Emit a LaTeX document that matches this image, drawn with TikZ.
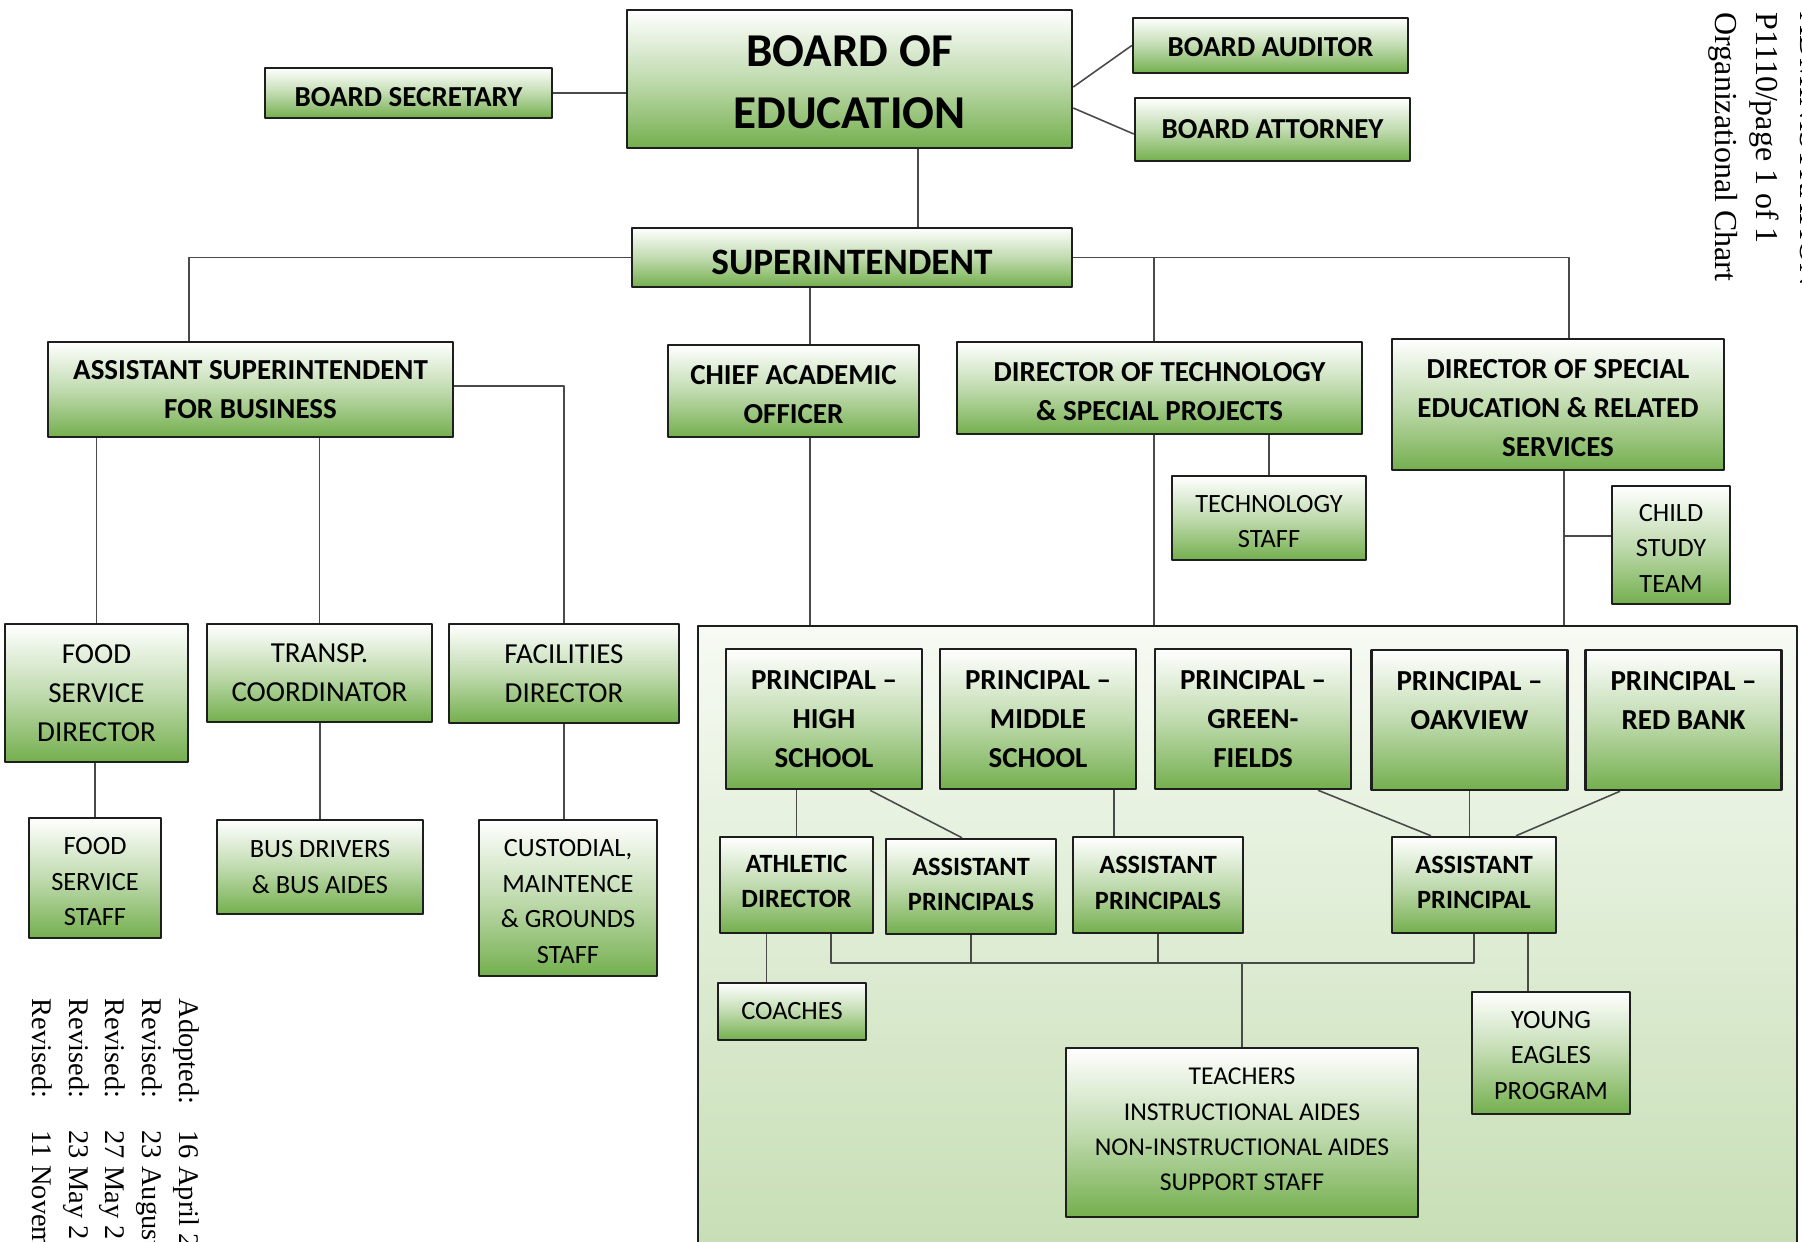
\documentclass[tikz,border=0pt]{standalone}
\usepackage{fontspec}
\setmainfont{Carlito}
\newfontfamily\timesfont{Liberation Serif}
% invisible struts that nudge a box's text down or up
\newcommand\pushdown[1]{\rule{0pt}{\dimexpr0.64em+#1*2\relax}}
\newcommand\pushup[1]{\rule[-\dimexpr#1*2\relax]{0pt}{0pt}}
\begin{document}
\begin{tikzpicture}[line join=round]
  \definecolor{leaf}{HTML}{74AF4E}
  \definecolor{edge}{HTML}{1E1E1E}
  \definecolor{wire}{HTML}{4A4A4A}
  \definecolor{bgtop}{HTML}{F6FAF3}
  \definecolor{bgbot}{HTML}{C6DEB4}
  \path[use as bounding box] (0,0) rectangle (18.02,-12.41);
  \tikzset{
    unit/.style={draw=edge, line width=0.7pt, top color=white, bottom color=leaf,
      middle color=leaf!45!white, align=center, inner sep=0pt, text=black,
      font=\bfseries\fontsize{8.25}{11.1}\selectfont},
    unitsm/.style={unit, font=\bfseries\fontsize{7.5}{10.1}\selectfont},
    staff/.style={unit, font=\fontsize{8.25}{11.1}\selectfont},
    staffsm/.style={unit, font=\fontsize{7.5}{10.1}\selectfont},
    link/.style={draw=wire, line width=0.45pt},
  }
  % Schools panel sits behind everything below the directors.
  \node[draw=edge, line width=0.7pt, top color=bgtop, bottom color=bgbot, inner sep=0pt,
    minimum width=10.99cm, minimum height=6.34cm] (schools) at (12.475,-9.43) {};
  % Page header and adoption history, set sideways.
  \node[rotate=-90, anchor=north west, inner sep=0pt, align=left,
    font=\timesfont\fontsize{9.1}{11.7}\selectfont] (header) at (18.22,-0.12)
    {ADMINISTRATION\\[0.8pt]P1110/page 1 of 1\\Organizational Chart};
  \node[rotate=-90, anchor=north west, inner sep=0pt, align=left,
    font=\timesfont\fontsize{8.1}{10.4}\selectfont] (history) at (1.995,-9.98)
    {\makebox[1.32cm][l]{Adopted:}16 April 2\\
     \makebox[1.32cm][l]{Revised:}23 August\\
     \makebox[1.32cm][l]{Revised:}27 May 2\\
     \makebox[1.32cm][l]{Revised:}23 May 2\\
     \makebox[1.32cm][l]{Revised:}11 November};
  % Board level.
  \node[unit, minimum width=2.87cm, minimum height=0.50cm] (bsec) at (4.085,-0.93) {\pushdown{1.3pt}BOARD SECRETARY};
  \node[unit, font=\bfseries\fontsize{13.4}{17.6}\selectfont, minimum width=4.45cm, minimum height=1.38cm]
    (boe) at (8.495,-0.79) {\pushdown{1.1pt}BOARD OF\\EDUCATION};
  \node[unit, minimum width=2.75cm, minimum height=0.55cm] (baud) at (12.705,-0.455) {\pushdown{0.6pt}BOARD AUDITOR};
  \node[unit, minimum width=2.75cm, minimum height=0.63cm] (batt) at (12.725,-1.295) {BOARD ATTORNEY};
  \node[unit, font=\bfseries\fontsize{10.6}{13}\selectfont, minimum width=4.40cm, minimum height=0.59cm]
    (supt) at (8.52,-2.575) {\pushdown{1.6pt}SUPERINTENDENT};
  % Central office.
  \node[unit, minimum width=4.05cm, minimum height=0.95cm] (asb) at (2.505,-3.895) {ASSISTANT SUPERINTENDENT\\FOR BUSINESS};
  \node[unit, minimum width=2.51cm, minimum height=0.92cm] (cao) at (7.935,-3.91) {\pushdown{1pt}CHIEF ACADEMIC\\OFFICER};
  \node[unit, minimum width=4.05cm, minimum height=0.92cm] (dtsp) at (11.595,-3.88) {\pushdown{1pt}DIRECTOR OF TECHNOLOGY\\\& SPECIAL PROJECTS};
  \node[unit, minimum width=3.32cm, minimum height=1.31cm] (dse) at (15.58,-4.045) {\pushdown{1pt}DIRECTOR OF SPECIAL\\EDUCATION \& RELATED\\SERVICES};
  \node[staffsm, minimum width=1.94cm, minimum height=0.84cm] (tstaff) at (12.69,-5.18) {\pushdown{1.1pt}TECHNOLOGY\\STAFF};
  \node[staffsm, minimum width=1.18cm, minimum height=1.18cm] (cst) at (16.71,-5.45) {\pushdown{1pt}CHILD\\STUDY\\TEAM};
  % Business side.
  \node[staff, minimum width=1.83cm, minimum height=1.38cm] (fsd) at (0.965,-6.93) {FOOD\\SERVICE\\DIRECTOR};
  \node[staff, minimum width=2.25cm, minimum height=0.98cm] (trans) at (3.195,-6.73) {TRANSP.\\COORDINATOR};
  \node[staff, minimum width=2.30cm, minimum height=0.99cm] (fac) at (5.64,-6.735) {FACILITIES\\DIRECTOR};
  \node[staffsm, minimum width=1.32cm, minimum height=1.20cm] (fss) at (0.95,-8.78) {\pushdown{1.1pt}FOOD\\SERVICE\\STAFF};
  \node[staffsm, minimum width=2.06cm, minimum height=0.94cm] (bus) at (3.20,-8.67) {BUS DRIVERS\\\& BUS AIDES};
  \node[staffsm, minimum width=1.78cm, minimum height=1.56cm] (cust) at (5.68,-8.98) {\pushdown{1pt}CUSTODIAL,\\MAINTENCE\\\& GROUNDS\\STAFF};
  % Schools.
  \tikzset{principal/.style={unit, minimum width=1.96cm, minimum height=1.40cm}}
  \node[principal] (phs) at (8.24,-7.19) {PRINCIPAL --\\HIGH\\SCHOOL};
  \node[principal] (pms) at (10.38,-7.19) {PRINCIPAL --\\MIDDLE\\SCHOOL};
  \node[principal] (pgf) at (12.53,-7.19) {PRINCIPAL --\\GREEN-\\FIELDS};
  \node[principal] (poak) at (14.695,-7.20) {PRINCIPAL --\\OAKVIEW\\\mbox{}};
  \node[principal] (prb) at (16.835,-7.20) {PRINCIPAL --\\RED BANK\\\mbox{}};
  \node[unitsm, minimum width=1.53cm, minimum height=0.96cm] (ad) at (7.965,-8.85) {ATHLETIC\\DIRECTOR\pushup{1.1pt}};
  \node[unitsm, minimum width=1.70cm, minimum height=0.95cm] (aphs) at (9.71,-8.865) {ASSISTANT\\PRINCIPALS\pushup{0.6pt}};
  \node[unitsm, minimum width=1.70cm, minimum height=0.96cm] (apms) at (11.58,-8.85) {ASSISTANT\\PRINCIPALS\pushup{0.6pt}};
  \node[unitsm, minimum width=1.64cm, minimum height=0.96cm] (ap) at (14.74,-8.85) {ASSISTANT\\PRINCIPAL\pushup{0.8pt}};
  \node[staffsm, minimum width=1.48cm, minimum height=0.57cm] (coach) at (7.92,-10.115) {COACHES};
  \node[staffsm, font=\fontsize{7.3}{10}\selectfont, minimum width=3.52cm, minimum height=1.69cm] (teach) at (12.42,-11.325)
    {TEACHERS\\INSTRUCTIONAL AIDES\\NON-INSTRUCTIONAL AIDES\\SUPPORT STAFF\pushup{0.9pt}};
  \node[staffsm, minimum width=1.58cm, minimum height=1.22cm] (yep) at (15.51,-10.53) {\pushdown{0.7pt}YOUNG\\EAGLES\\PROGRAM};
  % Connectors: board and superintendent.
  \coordinate (boedrop) at ([xshift=6.85mm]boe.south);
  \coordinate (leftdrop) at ([xshift=-6.15mm]asb.north);
  \coordinate (rightdrop) at ([xshift=1.1mm]dse.north);
  \coordinate (techdrop) at ([xshift=-0.55mm]dtsp.north);
  \coordinate (techdown) at ([xshift=-0.55mm]dtsp.south);
  \coordinate (caoup) at ([xshift=1.65mm]cao.north);
  \coordinate (caodown) at ([xshift=1.65mm]cao.south);
  \coordinate (sedown) at ([xshift=0.6mm]dse.south);
  \coordinate (cstin) at ([yshift=0.9mm]cst.west);
  \draw[link] (bsec.east) -- (bsec.east -| boe.west);
  \draw[link] ([yshift=-0.8mm]boe.east) -- (baud.west);
  \draw[link] ([yshift=-2.9mm]boe.east) -- ([yshift=-0.45mm]batt.west);
  \draw[link] (boedrop) -- (boedrop |- supt.north);
  \draw[link] (supt.west) -| (leftdrop);
  \draw[link] (supt.east) -| (rightdrop);
  \draw[link] (techdrop) -- (techdrop |- supt.east);
  \draw[link] (caoup) -- (caoup |- supt.south);
  \draw[link] (caodown) -- (caodown |- schools.north);
  \draw[link] (techdown) -- (techdown |- schools.north);
  \draw[link] (tstaff.north) -- (tstaff.north |- dtsp.south);
  \draw[link] (sedown) -- (sedown |- schools.north);
  \draw[link] (cstin) -- (cstin -| sedown);
  % Connectors: business.
  \draw[link] (fsd.north) -- (fsd.north |- asb.south);
  \draw[link] (trans.north) -- (trans.north |- asb.south);
  \draw[link] ([yshift=0.35mm]asb.east) -| (fac.north);
  \draw[link] (fss.north) -- (fss.north |- fsd.south);
  \draw[link] (bus.north) -- (bus.north |- trans.south);
  \draw[link] (fac.south) -- (fac.south |- cust.north);
  % Connectors: schools.
  \coordinate (msdown) at ([xshift=7.6mm]pms.south);
  \coordinate (coachup) at ([xshift=-3mm]ad.south);
  \coordinate (adout) at ([xshift=3.45mm]ad.south);
  \coordinate (hub) at ([yshift=-2.9mm]ap.south);
  \coordinate (eagleup) at ([xshift=5.4mm]ap.south);
  \draw[link] (ad.north) -- (ad.north |- phs.south);
  \draw[link] ([xshift=4.6mm]phs.south) -- ([xshift=-0.9mm]aphs.north);
  \draw[link] (msdown) -- (msdown |- apms.north);
  \draw[link] ([xshift=6.5mm]pgf.south) -- ([xshift=-4.3mm]ap.north);
  \draw[link] (poak.south) -- (poak.south |- ap.north);
  \draw[link] ([xshift=-6.35mm]prb.south) -- ([xshift=4.2mm]ap.north);
  \draw[link] (coachup) -- (coachup |- coach.north);
  \draw[link] (adout) |- (hub) -- (ap.south);
  \draw[link] (aphs.south) -- (aphs.south |- hub);
  \draw[link] (apms.south) -- (apms.south |- hub);
  \draw[link] (teach.north) -- (teach.north |- hub);
  \draw[link] (eagleup) -- (eagleup |- yep.north);
\end{tikzpicture}
\end{document}
